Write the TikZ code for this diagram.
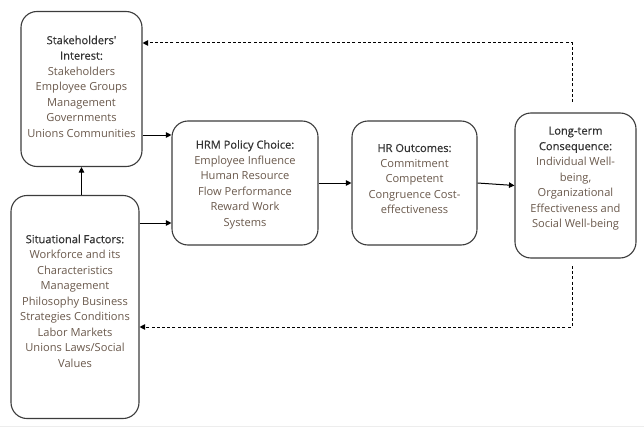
\documentclass[tikz,border=0pt]{standalone}
\usepackage{fontspec}
\setmainfont{Open Sans}
\newfontfamily\ttlfont[FakeBold=0.6]{Open Sans}
\usetikzlibrary{arrows.meta,positioning}
\definecolor{boxline}{HTML}{3C3C3C}
\definecolor{titlecol}{HTML}{333333}
\definecolor{bodycol}{HTML}{6A594C}
\newcommand{\ttl}[1]{{\ttlfont\color{titlecol}#1}}
\begin{document}
\begin{tikzpicture}[x=1pt,y=-1pt,
  box/.style={draw=boxline,line width=1.1pt,rounded corners=16pt,fill=white,inner sep=0pt},
  txt/.style={align=center,inner sep=0pt,font=\fontsize{11.1}{15.5}\selectfont,text=bodycol},
  arr/.style={draw=black,line width=1pt,-{Triangle[length=5.5pt,width=5.5pt]}},
  darr/.style={draw=black,line width=1pt,dash pattern=on 3pt off 2.2pt,-{Triangle[length=5.5pt,width=5.5pt]}}]
\useasboundingbox (0,0) rectangle (644,441);
\draw[color=black!7,line width=0.8pt] (0,426) -- (644,426);

\node[box,minimum width=121pt,minimum height=155pt] (A) at (81.5,89) {};
\node[txt] (At) at (81.5,86.5)
 {\ttl{Stakeholders'}\\\ttl{Interest:}\\Stakeholders\\Employee Groups\\Management\\Governments\\Unions Communities};
\node[box,minimum width=128pt,minimum height=223pt] (S) at (75,307) {};
\node[txt] (St) at (75,301)
 {\ttl{Situational Factors:}\\Workforce and its\\Characteristics\\Management\\Philosophy Business\\Strategies Conditions\\Labor Markets\\Unions Laws/Social\\Values};
\node[box,minimum width=146pt,minimum height=124pt] (H) at (245,183) {};
\node[txt] (Ht) at (245,184.5)
 {\ttl{HRM Policy Choice:}\\Employee Influence\\Human Resource\\Flow Performance\\Reward Work\\Systems};
\node[box,minimum width=125pt,minimum height=124pt] (O) at (414.5,183) {};
\node[txt] (Ot) at (414.5,179)
 {\ttl{HR Outcomes:}\\Commitment\\Competent\\Congruence Cost-\\effectiveness};
\node[box,minimum width=121pt,minimum height=145pt] (L) at (575.5,185.5) {};
\node[txt] (Lt) at (575.5,178.5)
 {\ttl{Long-term}\\\ttl{Consequence:}\\Individual Well-\\being,\\Organizational\\Effectiveness and\\Social Well-being};

\coordinate (ah) at (0,135);
\coordinate (sh) at (0,223);
\coordinate (topY) at (572,43);
\coordinate (botY) at (572,327);
\coordinate (ltop) at (572,102);
\coordinate (lbot) at (572,266);

\draw[arr] (A.south |- S.north) -- (A.south);
\draw[arr] (A.east |- ah) -- (H.west |- ah);
\draw[arr] (S.east |- sh) -- (H.west |- sh);
\draw[arr] (H.east) -- (O.west);
\draw[arr] (O.east) -- (L.west);
\draw[darr] (ltop) -- (topY) -- (A.east |- topY);
\draw[darr] (lbot) -- (botY) -- (S.east |- botY);
\end{tikzpicture}
\end{document}
